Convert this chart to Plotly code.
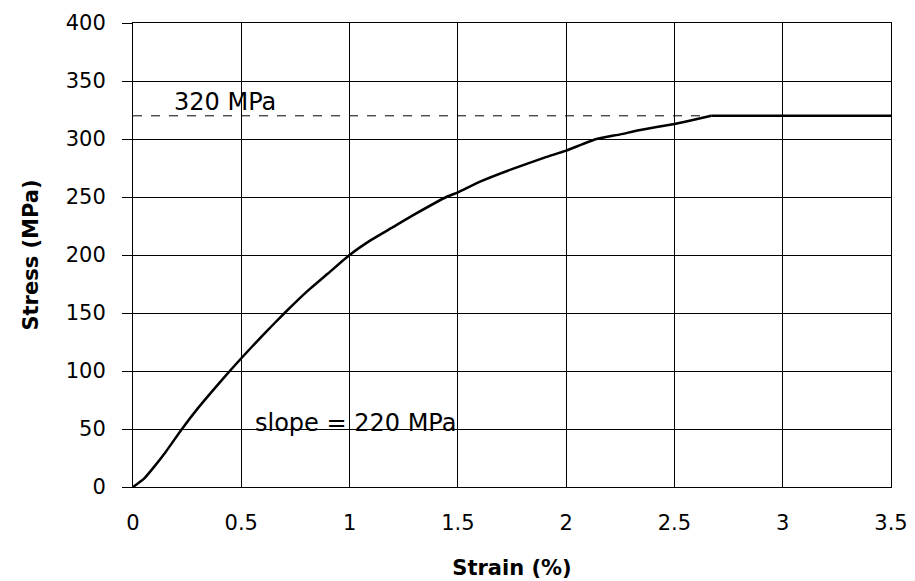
import plotly.graph_objects as go

strain = [0, 0.05, 0.1, 0.15, 0.226, 0.3, 0.4, 0.447, 0.5, 0.6, 0.7, 0.8, 0.9, 1.0,
          1.1, 1.2, 1.3, 1.447, 1.5, 1.6, 1.75, 1.9, 2.0, 2.14, 2.25, 2.336, 2.5, 2.6, 2.67, 3.5]
stress = [0, 7, 18, 30, 50, 68, 90, 100, 111, 131, 150, 168, 184, 200,
          213, 224, 235, 250, 254, 263, 274, 284, 290, 300, 304, 307.5, 313, 317, 320, 320]

yield_x = [0, 2.67]
yield_y = [320, 320]

x_ticks = [0, 0.5, 1, 1.5, 2, 2.5, 3, 3.5]
x_tick_labels = ["0", "0.5", "1", "1.5", "2", "2.5", "3", "3.5"]
y_ticks = [0, 50, 100, 150, 200, 250, 300, 350, 400]

FONT = "DejaVu Sans"

fig = go.Figure()
fig.add_trace(go.Scatter(x=yield_x, y=yield_y, mode="lines",
                         line=dict(color="black", width=1, dash="dash"),
                         showlegend=False, hoverinfo="skip"))
# hardening part (smoothed) and plateau
fig.add_trace(go.Scatter(x=strain[:-1], y=stress[:-1], mode="lines",
                         line=dict(color="black", width=2.5, shape="spline", smoothing=0.5),
                         showlegend=False))
fig.add_trace(go.Scatter(x=strain[-2:], y=stress[-2:], mode="lines",
                         line=dict(color="black", width=2.5),
                         showlegend=False))

fig.add_annotation(x=0.18, y=332, text="320 MPa", showarrow=False,
                   xanchor="left", yanchor="middle",
                   font=dict(family=FONT, size=24, color="black"))
fig.add_annotation(x=0.553, y=55, text="slope = 220 MPa", showarrow=False,
                   xanchor="left", yanchor="middle",
                   font=dict(family=FONT, size=24, color="black"))

# page body has an 8px margin, so the figure is sized to fit the 915x581 window
fig.update_layout(
    width=907, height=573,
    margin=dict(l=125, r=24, t=15, b=94),
    paper_bgcolor="white", plot_bgcolor="white",
    font=dict(family=FONT, color="black"),
    xaxis=dict(range=[0, 3.5], tickvals=x_ticks, ticktext=x_tick_labels,
               automargin=False,
               showgrid=True, gridcolor="black", gridwidth=1,
               zeroline=False, showline=True, linecolor="black", linewidth=1, mirror=True,
               ticks="", ticklabelstandoff=17,
               tickfont=dict(family=FONT, size=21, color="black"),
               title=dict(text="<b>Strain (%)</b>", standoff=26,
                          font=dict(family=FONT, size=21, color="black"))),
    yaxis=dict(range=[0, 400], tickvals=y_ticks,
               automargin=False,
               showgrid=True, gridcolor="black", gridwidth=1,
               zeroline=False, showline=True, linecolor="black", linewidth=1, mirror=True,
               ticks="outside", ticklen=10, tickcolor="black", ticklabelstandoff=12,
               tickfont=dict(family=FONT, size=21, color="black"),
               title=dict(text="<b>Stress (MPa)</b>", standoff=21,
                          font=dict(family=FONT, size=21, color="black"))),
)

fig.write_html("out.html")
